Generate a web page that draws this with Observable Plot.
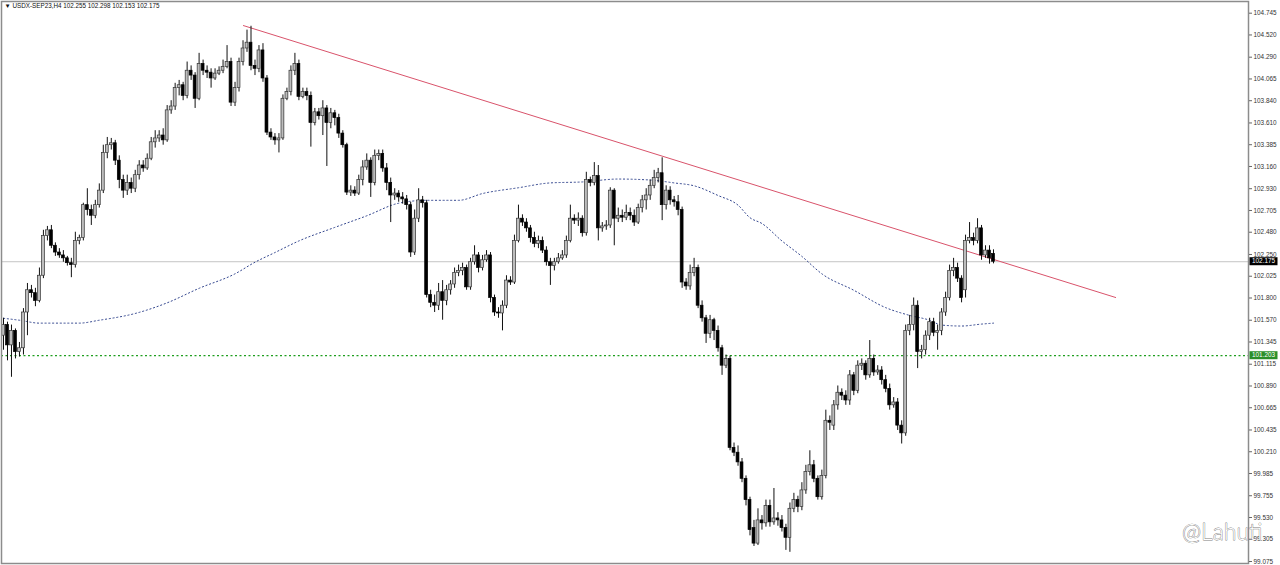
<!DOCTYPE html>
<html><head><meta charset="utf-8">
<script src="https://cdn.jsdelivr.net/npm/d3@7"></script>
<script src="https://cdn.jsdelivr.net/npm/@observablehq/plot@0.6"></script>
<style>html,body{margin:0;padding:0;background:#fff;} #chart{width:1280px;height:565px;overflow:hidden}</style>
</head><body><div id="chart"></div>
<script>
// ---- DATA (USDX-SEP23, H4) ----
const symbolTitle = "\u25BC USDX-SEP23,H4 102.255 102.298 102.153 102.175";
const opens = [
101.41,101.52,101.31,101.46,101.24,101.28,101.65,101.88,101.85,101.77,
102.03,102.44,102.50,102.34,102.27,102.24,102.21,102.16,102.14,102.39,
102.42,102.76,102.71,102.65,102.76,102.91,103.30,103.38,103.40,103.22,
103.02,102.91,102.99,102.93,103.07,103.17,103.14,103.24,103.41,103.45,
103.48,103.43,103.74,103.78,103.97,104.00,103.89,104.15,104.10,103.86,
104.22,104.15,104.13,104.07,104.12,104.15,104.19,104.24,103.82,103.97,
104.24,104.38,104.44,104.20,104.17,104.36,104.07,103.51,103.46,103.43,
103.45,103.86,103.93,104.15,104.22,103.88,103.93,103.89,103.61,103.72,
103.68,103.76,103.61,103.71,103.66,103.50,103.38,102.89,102.91,102.88,
103.02,103.15,103.22,102.99,103.27,103.29,103.14,102.99,102.86,102.88,
102.84,102.82,102.76,102.27,102.62,102.81,102.78,101.83,101.75,101.72,
101.86,101.77,101.88,101.94,102.06,102.08,102.11,101.91,102.17,102.24,
102.11,102.19,102.24,101.80,101.65,101.64,101.72,101.98,101.96,102.39,
102.62,102.58,102.52,102.42,102.36,102.39,102.29,102.17,102.13,102.17,
102.21,102.24,102.39,102.62,102.60,102.62,102.47,103.02,102.99,103.06,
102.52,102.54,102.55,102.91,102.62,102.65,102.63,102.68,102.65,102.58,
102.73,102.81,102.86,102.96,103.04,103.09,102.76,102.91,102.81,102.79,
102.71,101.96,101.92,102.06,102.11,101.72,101.59,101.43,101.57,101.46,
101.28,101.10,101.17,100.25,100.20,100.10,99.93,99.71,99.42,99.26,
99.50,99.47,99.65,99.48,99.52,99.50,99.42,99.32,99.62,99.71,
99.64,99.81,100.00,100.07,99.93,99.74,99.96,100.53,100.48,100.69,
100.82,100.79,100.74,101.00,100.84,101.10,101.12,101.00,101.17,101.03,
101.05,100.95,100.86,100.69,100.72,100.48,100.40,101.46,101.52,101.72,
101.24,101.26,101.41,101.55,101.44,101.46,101.65,101.80,102.08,102.11,
102.00,101.88,102.39,102.42,102.39,102.52,102.24,102.29,102.255];
const closes = [
101.52,101.31,101.46,101.24,101.28,101.65,101.88,101.85,101.77,102.03,
102.44,102.50,102.34,102.27,102.24,102.21,102.16,102.14,102.39,102.42,
102.76,102.71,102.65,102.76,102.91,103.30,103.38,103.40,103.22,103.02,
102.91,102.99,102.93,103.07,103.17,103.14,103.24,103.41,103.45,103.48,
103.43,103.74,103.78,103.97,104.00,103.89,104.15,104.10,103.86,104.22,
104.15,104.13,104.07,104.12,104.15,104.19,104.24,103.82,103.97,104.24,
104.38,104.44,104.20,104.17,104.36,104.07,103.51,103.46,103.43,103.45,
103.86,103.93,104.15,104.22,103.88,103.93,103.89,103.61,103.72,103.68,
103.76,103.61,103.71,103.66,103.50,103.38,102.89,102.91,102.88,103.02,
103.15,103.22,102.99,103.27,103.29,103.14,102.99,102.86,102.88,102.84,
102.82,102.76,102.27,102.62,102.81,102.78,101.83,101.75,101.72,101.86,
101.77,101.88,101.94,102.06,102.08,102.11,101.91,102.17,102.24,102.11,
102.19,102.24,101.80,101.65,101.64,101.72,101.98,101.96,102.39,102.62,
102.58,102.52,102.42,102.36,102.39,102.29,102.17,102.13,102.17,102.21,
102.24,102.39,102.62,102.60,102.62,102.47,103.02,102.99,103.06,102.52,
102.54,102.55,102.91,102.62,102.65,102.63,102.68,102.65,102.58,102.73,
102.81,102.86,102.96,103.04,103.09,102.76,102.91,102.81,102.79,102.71,
101.96,101.92,102.06,102.11,101.72,101.59,101.43,101.57,101.46,101.28,
101.10,101.17,100.25,100.20,100.10,99.93,99.71,99.40,99.26,99.50,
99.47,99.65,99.48,99.52,99.50,99.42,99.32,99.62,99.71,99.64,
99.81,100.00,100.07,99.93,99.74,99.96,100.53,100.51,100.69,100.82,
100.79,100.74,101.00,100.84,101.10,101.12,101.00,101.17,101.03,101.05,
100.95,100.86,100.69,100.72,100.48,100.40,101.46,101.52,101.72,101.24,
101.26,101.41,101.55,101.44,101.46,101.65,101.80,102.08,102.11,102.00,
101.80,102.39,102.42,102.39,102.52,102.24,102.29,102.21,102.175];
const highs = [
101.59,101.55,101.52,101.48,101.34,101.69,101.95,101.93,101.90,102.11,
102.50,102.54,102.55,102.37,102.31,102.29,102.23,102.21,102.48,102.45,
102.78,102.93,102.76,102.81,102.98,103.38,103.46,103.45,103.43,103.27,
103.07,103.07,103.04,103.12,103.22,103.22,103.29,103.46,103.53,103.53,
103.55,103.79,103.84,104.02,104.05,104.03,104.24,104.20,104.13,104.33,
104.26,104.20,104.17,104.17,104.19,104.26,104.41,104.28,104.03,104.28,
104.46,104.57,104.61,104.26,104.41,104.43,104.10,103.55,103.50,103.50,
103.90,103.97,104.20,104.33,104.26,103.97,103.97,103.93,103.76,103.76,
103.84,103.79,103.76,103.74,103.70,103.53,103.40,102.96,102.95,103.07,
103.22,103.29,103.25,103.33,103.33,103.33,103.19,103.04,102.93,102.91,
102.89,102.86,102.79,102.71,102.93,102.85,102.81,101.88,101.83,101.95,
101.98,101.93,101.98,102.11,102.14,102.16,102.14,102.21,102.34,102.27,
102.24,102.29,102.27,101.83,101.70,101.77,102.03,102.02,102.45,102.76,
102.66,102.62,102.55,102.48,102.44,102.43,102.33,102.21,102.21,102.26,
102.29,102.44,102.76,102.66,102.68,102.65,103.10,103.05,103.20,103.17,
102.58,102.60,102.94,102.93,102.73,102.71,102.76,102.73,102.71,102.77,
102.86,102.93,103.02,103.12,103.14,103.25,102.96,102.95,102.85,102.86,
102.74,102.00,102.14,102.21,102.14,101.77,101.62,101.62,101.59,101.51,
101.31,101.21,101.20,100.30,100.27,100.14,99.96,99.74,99.50,99.62,
99.55,99.71,99.71,99.83,99.58,99.55,99.46,99.68,99.78,99.75,
99.89,100.07,100.22,100.12,99.96,100.02,100.64,100.58,100.74,100.89,
100.86,100.84,101.05,101.03,101.15,101.17,101.15,101.36,101.21,101.10,
101.09,101.00,100.91,100.77,100.76,100.53,101.52,101.62,101.80,101.77,
101.31,101.46,101.59,101.59,101.52,101.69,101.86,102.14,102.21,102.16,
102.03,102.45,102.58,102.47,102.62,102.55,102.34,102.34,102.298];
const lows = [
101.26,101.15,100.98,101.17,101.19,101.21,101.41,101.80,101.71,101.75,
102.00,102.39,102.31,102.23,102.21,102.17,102.13,102.01,102.11,102.35,
102.39,102.65,102.55,102.62,102.73,102.88,103.24,103.33,103.17,102.93,
102.83,102.86,102.88,102.89,103.02,103.10,103.12,103.22,103.35,103.41,
103.38,103.41,103.70,103.74,103.89,103.84,103.86,104.05,103.76,103.84,
104.10,104.07,103.97,104.05,104.10,104.12,104.17,103.78,103.78,103.93,
104.20,104.34,104.15,104.10,104.13,104.03,103.48,103.43,103.38,103.30,
103.43,103.84,103.89,104.10,103.84,103.86,103.84,103.36,103.58,103.64,
103.48,103.16,103.55,103.58,103.45,103.35,102.86,102.85,102.85,102.86,
102.96,103.12,102.84,102.96,103.22,103.10,102.91,102.58,102.81,102.79,
102.77,102.71,102.22,102.24,102.58,102.73,101.80,101.70,101.65,101.67,
101.57,101.72,101.83,101.90,102.02,102.03,101.88,101.88,102.14,102.06,
102.08,102.17,101.75,101.61,101.59,101.46,101.69,101.93,101.94,102.37,
102.54,102.48,102.37,102.32,102.31,102.26,102.13,101.93,102.08,102.15,
102.19,102.21,102.37,102.56,102.54,102.43,102.44,102.95,102.96,102.39,
102.48,102.50,102.52,102.34,102.58,102.58,102.60,102.60,102.54,102.56,
102.68,102.71,102.81,102.93,102.99,102.60,102.71,102.76,102.74,102.65,
101.90,101.88,101.88,102.02,101.69,101.55,101.33,101.38,101.36,101.24,
101.00,101.07,100.22,100.16,100.06,99.89,99.65,99.34,99.23,99.24,
99.40,99.43,99.43,99.45,99.44,99.38,99.19,99.17,99.58,99.58,
99.60,99.77,99.96,99.89,99.71,99.71,99.93,100.43,100.43,100.64,
100.74,100.69,100.69,100.79,100.81,101.05,100.95,100.97,100.99,101.00,
100.90,100.82,100.64,100.66,100.43,100.29,100.37,101.41,101.46,101.07,
101.17,101.21,101.36,101.40,101.26,101.41,101.61,101.77,102.02,101.96,
101.75,101.80,102.36,102.34,102.36,102.19,102.21,102.15,102.153];

// Moving average (dotted blue) read at some bar positions
const maBar = [0,4,9,19,24,33,41,49,58,63,68,74,83,91,99,106,114,120,129,137,145,154,162,168,173,179,184,187,190,195,200,205,213,221,227,232,235,240,245,248];
const maValue = [101.59,101.57,101.54,101.54,101.57,101.64,101.75,101.90,102.05,102.17,102.27,102.39,102.53,102.65,102.78,102.81,102.81,102.88,102.94,102.99,103.00,103.03,103.02,102.99,102.96,102.86,102.76,102.63,102.57,102.39,102.23,102.05,101.88,101.70,101.62,101.57,101.52,101.51,101.53,101.54];

// Trend line (red)
const trendBar = [60.1, 278.6];
const trendValue = [104.617, 101.805];

const bidPrice = 102.175;
const levelPrice = 101.203;
const yTicks = [104.745,104.520,104.290,104.065,103.840,103.610,103.385,103.160,102.930,102.705,102.480,102.250,102.025,101.800,101.570,101.345,101.115,100.890,100.665,100.435,100.210,99.985,99.755,99.530,99.305,99.075];
const watermark = "@Lahuti";

// ---- BUILD ----
const n = Math.min(opens.length, closes.length, highs.length, lows.length);
const candles = d3.range(n).map(i => ({i, open: opens[i], close: closes[i], high: highs[i], low: lows[i]}));
const bull = candles.filter(d => d.close >= d.open);
const bear = candles.filter(d => d.close < d.open);
const maPts = maBar.map((b, k) => ({i: b, v: maValue[k]}));
const trendPts = trendBar.map((b, k) => ({i: b, v: trendValue[k]}));
const half = 0.36;
const FONT = "Liberation Sans, Arial, sans-serif";

const plot = Plot.plot({
  width: 1280, height: 565,
  marginLeft: 1, marginRight: 32, marginTop: 1, marginBottom: 2,
  style: {fontFamily: FONT, fontSize: "6.4px", background: "#fff", color: "#222"},
  x: {type: "linear", domain: [0, n - 1], range: [3, 993], axis: null},
  y: {type: "linear", domain: [99.075, 104.745], range: [561, 12.7], label: null, axis: null},
  marks: [
    Plot.ruleY([bidPrice], {stroke: "#c4c4c4", strokeWidth: 1}),
    Plot.ruleY([levelPrice], {stroke: "#1f9e1f", strokeWidth: 1.2, strokeDasharray: "2,2.5"}),
    Plot.line(maPts, {x: "i", y: "v", stroke: "#34478f", strokeWidth: 1, strokeDasharray: "1.2,2.6", curve: "monotone-x"}),
    Plot.line(trendPts, {x: "i", y: "v", stroke: "#d9536b", strokeWidth: 1}),
    Plot.ruleX(candles, {x: "i", y1: "low", y2: "high", stroke: "#111", strokeWidth: 1}),
    Plot.rect(bull, {x1: d => d.i - half, x2: d => d.i + half, y1: "open", y2: "close", fill: "#bdbdbd", stroke: "#333", strokeWidth: 0.7}),
    Plot.rect(bear, {x1: d => d.i - half, x2: d => d.i + half, y1: "open", y2: "close", fill: "#000", stroke: "#000", strokeWidth: 0.7}),
    Plot.frame({stroke: "#8c8c8c", strokeWidth: 1.5}),
    Plot.axisY(yTicks, {anchor: "right", tickSize: 3, tickPadding: 2, tickFormat: d => d.toFixed(3), stroke: "#666", fill: "#333", fontSize: 6.4, label: null}),
    Plot.text([symbolTitle], {frameAnchor: "top-left", dx: 3, dy: 2, textAnchor: "start", lineAnchor: "top", fontSize: 6.3, fill: "#111"}),
    Plot.text([watermark], {frameAnchor: "bottom-right", dx: 14, dy: -24, textAnchor: "end", lineAnchor: "bottom", fontSize: 23, fontFamily: "Lato, sans-serif", fontWeight: 300, fill: "#fff", stroke: "#808080", strokeWidth: 0.8})
  ]
});

// price tags on the right scale
const ys = plot.scale("y");
const svg = d3.select(plot);
[[bidPrice, "#000"], [levelPrice, "#2a8f2a"]].forEach(([v, c]) => {
  const y = ys.apply(v);
  const g = svg.append("g");
  g.append("rect").attr("x", 1249.5).attr("y", y - 4).attr("width", 28).attr("height", 8).attr("fill", c);
  g.append("text").attr("x", 1252).attr("y", y).attr("dy", "0.35em").attr("fill", "#fff")
    .attr("text-anchor", "start").attr("font-size", 6.4).attr("font-family", FONT).text(v.toFixed(3));
});
document.getElementById("chart").appendChild(plot);
</script>
</body></html>
